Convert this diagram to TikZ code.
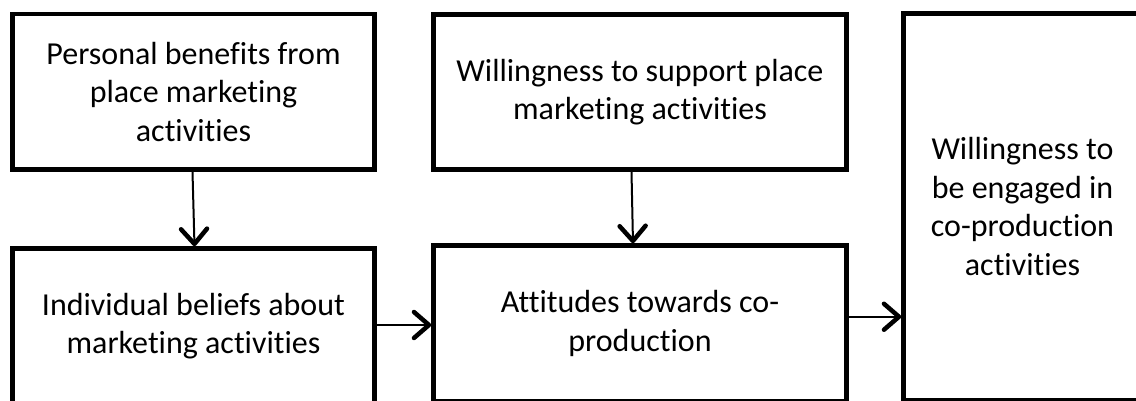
\documentclass[tikz,border=0pt]{standalone}
\usepackage{fontspec}
\setmainfont{Carlito}[Ligatures=NoCommon]
\usetikzlibrary{arrows.meta}
\begin{document}
\begin{tikzpicture}[x=1pt,y=-1pt,
  box/.style={draw, line width=4.6pt, align=center, inner sep=0pt,
    font=\fontsize{32}{38.5}\selectfont},
  conn/.style={line width=2pt,
    -{Straight Barb[length=15pt,width=26pt,line width=4.5pt,round]}}]
\useasboundingbox (0,0) rectangle (1136,401);
\clip (0,0) rectangle (1136,401);
\node[box, minimum width=362pt, minimum height=155.5pt] (b1) at (193.5,91.75)
  {Personal benefits from\\place marketing\\activities};
\node[box, minimum width=413pt, minimum height=155pt] (b2) at (640,92)
  {Willingness to support place\\marketing activities};
\node[box, minimum width=238pt, minimum height=386.5pt] (b3) at (1022.5,206.75)
  {Willingness to\\be engaged in\\co-production\\activities};
\node[box, minimum width=362pt, minimum height=155.5pt] (b4) at (193.5,326.25)
  {Individual beliefs about\\marketing activities};
\node[box, minimum width=413pt, minimum height=155.5pt] (b5) at (640,323.25)
  {Attitudes towards co-\\production};
\draw[conn] ([xshift=-1pt]b1.south) -- ([xshift=1pt]b4.north);
\draw[conn] ([xshift=-8.5pt]b2.south) -- ([xshift=-7pt]b5.north);
\draw[conn] ([yshift=1.25pt]b4.east) -- ([yshift=1.25pt]b4.east -| b5.west);
\draw[conn] ([yshift=6.5pt]b5.east) -- ([yshift=6.5pt]b5.east -| b3.west);
\end{tikzpicture}
\end{document}
